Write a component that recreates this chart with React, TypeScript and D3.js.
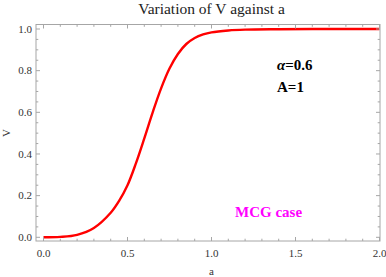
import * as d3 from 'd3';
import React from 'react';

// values
const aValues = [0, 0.1, 0.2, 0.3, 0.4, 0.45, 0.5, 0.55, 0.6, 0.65, 0.7, 0.75, 0.8, 0.85, 0.9, 0.95, 1.0, 1.1, 1.2, 1.4, 1.6, 1.8, 2.0];
const vValues = [0, 0.002, 0.012, 0.045, 0.118, 0.175, 0.25, 0.355, 0.475, 0.6, 0.715, 0.81, 0.88, 0.928, 0.957, 0.974, 0.984, 0.993, 0.997, 0.999, 1, 1, 1];

const xTicks = [0, 0.5, 1.0, 1.5, 2.0];
const yTicks = [0, 0.2, 0.4, 0.6, 0.8, 1.0];

const title = 'Variation of V against a';
const xLabel = 'a';
const yLabel = 'V';
const notes = ['=0.6', 'A=1'];
const caseLabel = 'MCG case';

function App() {
  const width = 386;
  const height = 277;
  const frame = { left: 36, right: 380, top: 24.5, bottom: 241 };

  const x = d3.scaleLinear().domain([0, 2]).range([43.5, 379.5]);
  const y = d3.scaleLinear().domain([0, 1]).range([237.3, 29]);

  const pts = aValues.map((a, i) => [a, vValues[i]] as [number, number]);
  const line = d3.line<[number, number]>()
    .curve(d3.curveCatmullRom.alpha(0.5))
    .x(d => x(d[0]))
    .y(d => y(d[1]));

  const xMinor = d3.range(0, 2.0001, 0.1).filter(v => Math.abs(v * 2 - Math.round(v * 2)) > 1e-6);
  const yMinor = d3.range(0, 1.0001, 0.05).filter(v => Math.abs(v * 5 - Math.round(v * 5)) > 1e-6);

  const frameColor = '#a6a6a6';
  const font = "'Liberation Serif', 'Times New Roman', 'DejaVu Serif', serif";

  return (
    <svg width={width} height={height} style={{ position: 'absolute', left: 0, top: 0, background: '#fff', fontFamily: font }}>
      <text x={211.5} y={14} textAnchor="middle" fontSize={15.5} fill="#222">{title}</text>

      <defs>
        <clipPath id="plotclip">
          <rect x={frame.left} y={frame.top} width={frame.right - frame.left} height={frame.bottom - frame.top} />
        </clipPath>
      </defs>
      <g clipPath="url(#plotclip)">
        <path d={line(pts) || ''} fill="none" stroke="#ff0000" strokeWidth={2.4} />
      </g>

      <rect x={frame.left} y={frame.top} width={frame.right - frame.left} height={frame.bottom - frame.top}
        fill="none" stroke={frameColor} strokeWidth={1} />

      {/* x ticks, bottom and top */}
      {xTicks.map(t => (
        <g key={'xm' + t} stroke={frameColor}>
          <line x1={x(t)} x2={x(t)} y1={frame.bottom} y2={frame.bottom - 4} />
          <line x1={x(t)} x2={x(t)} y1={frame.top} y2={frame.top + 4} />
        </g>
      ))}
      {xMinor.map(t => (
        <g key={'xn' + t} stroke={frameColor}>
          <line x1={x(t)} x2={x(t)} y1={frame.bottom} y2={frame.bottom - 2.3} />
          <line x1={x(t)} x2={x(t)} y1={frame.top} y2={frame.top + 2.3} />
        </g>
      ))}
      {/* y ticks, left and right */}
      {yTicks.map(t => (
        <g key={'ym' + t} stroke={frameColor}>
          <line x1={frame.left} x2={frame.left + 4} y1={y(t)} y2={y(t)} />
          <line x1={frame.right} x2={frame.right - 4} y1={y(t)} y2={y(t)} />
        </g>
      ))}
      {yMinor.map(t => (
        <g key={'yn' + t} stroke={frameColor}>
          <line x1={frame.left} x2={frame.left + 2.3} y1={y(t)} y2={y(t)} />
          <line x1={frame.right} x2={frame.right - 2.3} y1={y(t)} y2={y(t)} />
        </g>
      ))}

      {xTicks.map(t => (
        <text key={'xl' + t} x={x(t)} y={257} textAnchor="middle" fontSize={11} fill="#333">{d3.format('.1f')(t)}</text>
      ))}
      {yTicks.map(t => (
        <text key={'yl' + t} x={32} y={y(t) + 3.8} textAnchor="end" fontSize={11} fill="#333">{d3.format('.1f')(t)}</text>
      ))}

      <text x={211.5} y={275} textAnchor="middle" fontSize={11} fill="#333">{xLabel}</text>
      <text transform="translate(10,133) rotate(-90)" textAnchor="middle" fontSize={11} fill="#333">{yLabel}</text>

      <text x={277} y={70} fontSize={15} fontWeight="bold" fill="#000">
        <tspan fontStyle="italic">α</tspan>{notes[0]}
      </text>
      <text x={277} y={91.5} fontSize={15} fontWeight="bold" fill="#000">{notes[1]}</text>

      <text x={235} y={217} fontSize={15} fontWeight="bold" fill="#ff00ff">{caseLabel}</text>
    </svg>
  );
}

export default App;
